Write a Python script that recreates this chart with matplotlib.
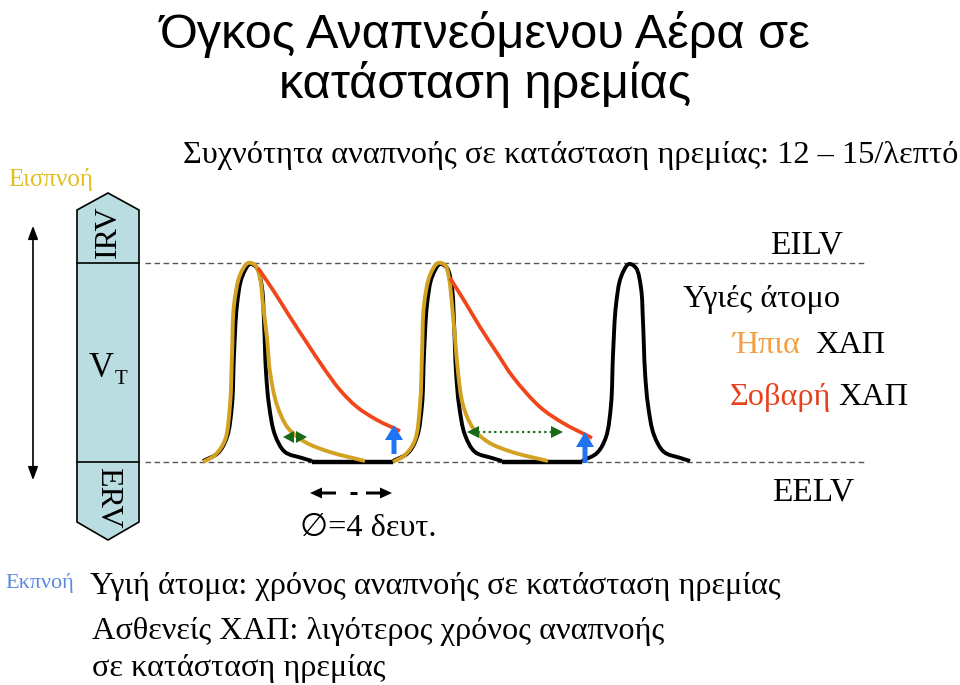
import numpy as np
import matplotlib
matplotlib.use("Agg")
import matplotlib.pyplot as plt
from matplotlib.path import Path
from matplotlib.patches import PathPatch, Polygon, FancyArrow

# ---------------- data (pixel units) ----------------
title_lines = ["Όγκος Αναπνεόμενου Αέρα σε", "κατάσταση ηρεμίας"]
subtitle = "Συχνότητα αναπνοής σε κατάσταση ηρεμίας: 12 – 15/λεπτό"
bottom_lines = ["Υγιή άτομα: χρόνος αναπνοής σε κατάσταση ηρεμίας",
                "Ασθενείς ΧΑΠ: λιγότερος χρόνος αναπνοής",
                "σε κατάσταση ηρεμίας"]

# lung volume levels (y, pixels)
eilv_level = 263
eelv_level = 462
column_top, column_bottom = 193, 540

# healthy breath shape (one breath, x relative to onset) and breath onsets
normal_x = [0, 15, 24, 29, 31, 34, 39, 47, 54, 59, 61, 63, 66, 72, 82, 99, 109]
normal_y = [461, 453, 437, 405, 355, 305, 277, 264, 268, 288, 322, 372, 405, 435, 452, 458, 461]
normal_onsets = [203, 393, 582]
normal_end = 690

# mild COPD breath (two breaths)
mild1_x = [203, 215, 225, 230, 232, 234, 240, 248, 255, 260, 263, 267, 270, 277, 288, 305, 330, 365]
mild1_y = [462, 455, 440, 405, 355, 305, 275, 263, 265, 278, 305, 338, 372, 405, 428, 442, 452, 461]
mild2_x = [393, 405, 415, 420, 422, 424, 430, 438, 445, 449, 452, 455, 458, 463, 473, 488, 512, 548]
mild2_y = [462, 455, 440, 405, 355, 305, 275, 263, 265, 278, 305, 338, 372, 405, 428, 442, 452, 461]

# severe COPD expiration
severe1_x = [258, 273, 290, 307, 323, 340, 357, 377, 400]
severe1_y = [268, 290, 317, 343, 367, 390, 407, 420, 431]
severe2_x = [450, 465, 480, 497, 513, 540, 563, 592]
severe2_y = [278, 302, 327, 353, 377, 407, 423, 438]

# next inspiration starts (blue arrows): x, base y, tip y
blue_x = [394, 585]
blue_base = [454, 463]
blue_tip = [425, 432]

# ---------------- figure ----------------
fig = plt.figure(figsize=(9.6, 6.85), dpi=100)
ax = fig.add_axes([0, 0, 1, 1])
ax.set_xlim(0, 960)
ax.set_ylim(685, 0)
ax.axis("off")

SERIF = ["Liberation Serif", "DejaVu Sans"]
SANS = ["Liberation Sans", "DejaVu Sans"]

BLACK = "#000000"
GOLD = "#D4A223"
RED = "#F0461A"
BLUE = "#1E74F2"
GREEN = "#186A18"
TXT = 23.2


def smooth_path(xs, ys, alpha=0.5):
    """Centripetal Catmull-Rom through the points, as cubic Bezier segments."""
    pts = np.column_stack([xs, ys]).astype(float)
    ext = np.vstack([2 * pts[0] - pts[1], pts, 2 * pts[-1] - pts[-2]])
    verts = [pts[0]]
    codes = [Path.MOVETO]
    for i in range(1, len(ext) - 2):
        p0, p1, p2, p3 = ext[i - 1], ext[i], ext[i + 1], ext[i + 2]
        d1 = max(np.linalg.norm(p1 - p0) ** alpha, 1e-6)
        d2 = max(np.linalg.norm(p2 - p1) ** alpha, 1e-6)
        d3 = max(np.linalg.norm(p3 - p2) ** alpha, 1e-6)
        b1 = (d1 ** 2 * p2 - d2 ** 2 * p0 + (2 * d1 ** 2 + 3 * d1 * d2 + d2 ** 2) * p1) / (3 * d1 * (d1 + d2))
        b2 = (d3 ** 2 * p1 - d2 ** 2 * p3 + (2 * d3 ** 2 + 3 * d3 * d2 + d2 ** 2) * p2) / (3 * d3 * (d3 + d2))
        verts += [b1, b2, p2]
        codes += [Path.CURVE4] * 3
    return Path(verts, codes)


def draw_curve(xs, ys, color, lw, z):
    ax.add_patch(PathPatch(smooth_path(xs, ys), fc="none", ec=color, lw=lw,
                           capstyle="butt", joinstyle="round", zorder=z))


# titles
ax.text(485, 48, title_lines[0], fontsize=35, family=SANS, ha="center", va="baseline")
ax.text(485, 98, title_lines[1], fontsize=35, family=SANS, ha="center", va="baseline")
ax.text(183, 163, subtitle, fontsize=23.3, family=SERIF, ha="left", va="baseline")
ax.text(8, 186, "Εισπνοή", fontsize=18, family=SERIF, color="#E0C020", ha="left", va="baseline")

# volume column
col = Polygon([(108, column_top), (139, 210), (139, 522), (108, column_bottom),
               (77, 522), (77, 210)], closed=True, fc="#B9DDE1", ec=BLACK, lw=1.2, zorder=2)
ax.add_patch(col)
ax.plot([77, 139], [eilv_level, eilv_level], color=BLACK, lw=1.2, zorder=3)
ax.plot([77, 139], [eelv_level, eelv_level], color=BLACK, lw=1.2, zorder=3)
ax.text(108, 232, "IRV", fontsize=23, family=SERIF, rotation=90, ha="center", va="center", zorder=4)
ax.text(108, 498, "ERV", fontsize=23, family=SERIF, rotation=270, ha="center", va="center", zorder=4)
ax.text(114, 377, "V", fontsize=25, family=SERIF, ha="right", va="baseline", zorder=4)
ax.text(115, 384, "T", fontsize=15, family=SERIF, ha="left", va="baseline", zorder=4)

# vertical double arrow
ax.annotate("", xy=(33, 223), xytext=(33, 483),
            arrowprops=dict(arrowstyle="<|-|>,head_length=0.8,head_width=0.3", color=BLACK, lw=1.2))

# dashed level lines
for lvl in (eilv_level, eelv_level):
    ax.plot([145, 866], [lvl, lvl], color="#555555", lw=1.0, ls=(0, (4, 2.5)), zorder=1)

# healthy trace: breaths + flat baseline between them
for k, t0 in enumerate(normal_onsets):
    xs = [t0 + v for v in normal_x]
    if k == len(normal_onsets) - 1:
        xs[-1] = normal_end
        xs[-2] = t0 + 0.5 * (normal_x[-3] + normal_x[-2]) + 8
    draw_curve(xs, normal_y, BLACK, 2.8, 5)
    if k < len(normal_onsets) - 1:
        ax.plot([t0 + normal_x[-1], normal_onsets[k + 1]], [eelv_level - 0.5, eelv_level - 0.5],
                color=BLACK, lw=3.2, solid_capstyle="butt", zorder=5)

# mild COPD
draw_curve(mild1_x, mild1_y, GOLD, 2.8, 6)
draw_curve(mild2_x, mild2_y, GOLD, 2.8, 6)

# severe COPD
draw_curve(severe1_x, severe1_y, RED, 2.7, 7)
draw_curve(severe2_x, severe2_y, RED, 2.7, 7)

# blue arrows
for bx, b0, b1 in zip(blue_x, blue_base, blue_tip):
    ax.add_patch(FancyArrow(bx, b0, 0, b1 - b0, width=5, head_width=18, head_length=15,
                            length_includes_head=True, fc=BLUE, ec="none", zorder=8))

# green arrows: breath 1 (two touching heads)
ax.add_patch(Polygon([(283, 437), (294, 431), (294, 443)], closed=True, fc=GREEN, ec="none", zorder=8))
ax.add_patch(Polygon([(307, 437), (296, 431), (296, 443)], closed=True, fc=GREEN, ec="none", zorder=8))
# breath 2 (dotted double arrow)
ax.plot([472, 556], [432, 432], color=GREEN, lw=1.6, ls=(0, (1, 1.5)), zorder=8)
ax.add_patch(Polygon([(467, 432), (479, 426), (479, 438)], closed=True, fc=GREEN, ec="none", zorder=8))
ax.add_patch(Polygon([(563, 432), (551, 426), (551, 438)], closed=True, fc=GREEN, ec="none", zorder=8))

# level labels & legend
ax.text(770, 253, "EILV", fontsize=24, family=SERIF, ha="left", va="baseline")
ax.text(772, 500, "EELV", fontsize=24, family=SERIF, ha="left", va="baseline")
ax.text(683, 307, "Υγιές άτομο", fontsize=TXT, family=SERIF, ha="left", va="baseline")
ax.text(732, 353, "Ήπια", fontsize=TXT, family=SERIF, color="#F2A040", ha="left", va="baseline")
ax.text(815, 353, "ΧΑΠ", fontsize=TXT, family=SERIF, ha="left", va="baseline")
ax.text(730, 405, "Σοβαρή", fontsize=TXT, family=SERIF, color="#E8401C", ha="left", va="baseline")
ax.text(838, 405, "ΧΑΠ", fontsize=TXT, family=SERIF, ha="left", va="baseline")

# time scale
ax.add_patch(FancyArrow(336, 493, -26, 0, width=3, head_width=11, head_length=12,
                        length_includes_head=True, fc=BLACK, ec="none"))
ax.plot([350, 357], [493, 493], color=BLACK, lw=2.2, solid_capstyle="butt")
ax.add_patch(FancyArrow(366, 493, 26, 0, width=3, head_width=11, head_length=12,
                        length_includes_head=True, fc=BLACK, ec="none"))
ax.text(300, 536, "∅=4 δευτ.", fontsize=TXT, family=SERIF, ha="left", va="baseline")

# bottom text
ax.text(5, 588, "Εκπνοή", fontsize=16, family=SERIF, color="#5A8AE0", ha="left", va="baseline")
ax.text(90, 594, bottom_lines[0], fontsize=TXT, family=SERIF, ha="left", va="baseline")
ax.text(92, 639, bottom_lines[1], fontsize=TXT, family=SERIF, ha="left", va="baseline")
ax.text(92, 676, bottom_lines[2], fontsize=TXT, family=SERIF, ha="left", va="baseline")

fig.savefig("out.png", dpi=100)
